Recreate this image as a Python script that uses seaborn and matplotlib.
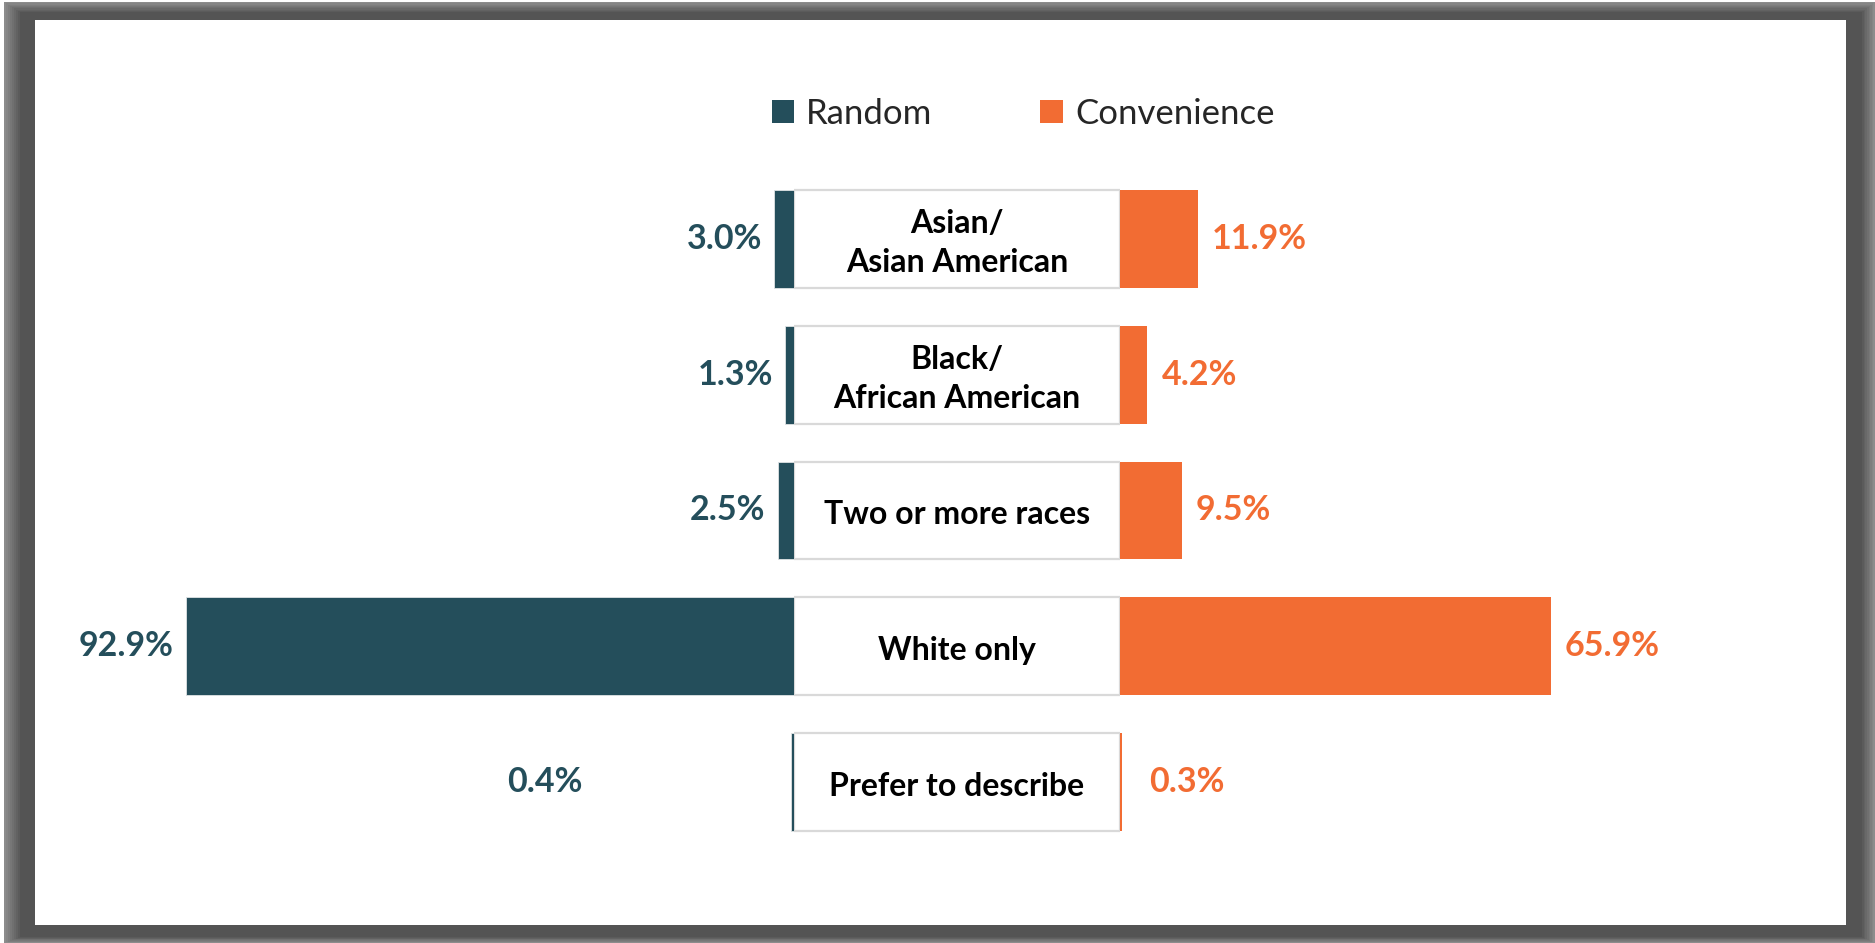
import matplotlib
matplotlib.use("Agg")
import matplotlib.pyplot as plt
import seaborn as sns
from matplotlib.patches import Rectangle, Patch

# ---- data ----
categories = ["Asian/\nAsian American", "Black/\nAfrican American", "Two or more races",
              "White only", "Prefer to describe"]
random_vals = [3.0, 1.3, 2.5, 92.9, 0.4]
convenience_vals = [11.9, 4.2, 9.5, 65.9, 0.3]
series_names = ["Random", "Convenience"]

TEAL = "#244E5B"
ORANGE = "#F26C33"
FONT = "Lato"

sns.set_theme(style="white")
plt.rcParams["font.family"] = [FONT, "DejaVu Sans"]

W, H = 1875, 943
fig = plt.figure(figsize=(W / 100, H / 100), dpi=100)
fig.patch.set_facecolor("white")

# ---- shadowed frame ----
def frect(x0, y0, x1, y1, color, z):
    fig.patches.append(Rectangle((x0 / W, 1 - y1 / H), (x1 - x0) / W, (y1 - y0) / H,
                                 transform=fig.transFigure, facecolor=color,
                                 edgecolor="none", zorder=z))

steps = 8
outer = (4, 2, 1875, 943)
dark = (20, 12, 1862, 937)
for i in range(steps + 1):
    t = i / steps
    box = [o + (d - o) * t for o, d in zip(outer, dark)]
    g = 0.55 - (0.55 - 0.33) * t
    frect(*box, (g, g, g), -10 + i * 0.01)
frect(35, 20, 1846, 925, "white", -9)

# ---- axes geometry ----
px_per_unit = 6.54
span = 100
box_l, box_r = 794, 1120
top_px, step_px = 239, 135.75
ax_top = top_px - 0.5 * step_px
ax_bot = ax_top + len(categories) * step_px
bottom = 1 - ax_bot / H
height = (ax_bot - ax_top) / H
lw_ = span * px_per_unit

axL = fig.add_axes([(box_l - lw_) / W, bottom, lw_ / W, height])
axM = fig.add_axes([box_l / W, bottom, (box_r - box_l) / W, height])
axR = fig.add_axes([box_r / W, bottom, lw_ / W, height])

bar_w = 0.72
sns.barplot(x=random_vals, y=categories, orient="h", ax=axL, color=TEAL,
            saturation=1, width=bar_w, edgecolor="#dfe3e5", linewidth=0.6)
sns.barplot(x=convenience_vals, y=categories, orient="h", ax=axR, color=ORANGE,
            saturation=1, width=bar_w, edgecolor="none", linewidth=0)
sns.barplot(x=[1] * len(categories), y=categories, orient="h", ax=axM, color="white",
            saturation=1, width=bar_w, edgecolor="#d9d9d9", linewidth=1.6)

axL.set_xlim(span, 0)
axR.set_xlim(0, span)
axM.set_xlim(0, 1)
for ax in (axL, axM, axR):
    ax.set_ylim(len(categories) - 0.5, -0.5)
    ax.axis("off")
    ax.patch.set_alpha(0)

lab_size = 24.5
for i, (cat, rv, cv) in enumerate(zip(categories, random_vals, convenience_vals)):
    extra_l = 30 if i == len(categories) - 1 else 0
    extra_r = 2 if i == len(categories) - 1 else 0
    axL.annotate(f"{rv:.1f}%", xy=(rv + extra_l, i), xytext=(-9, 0),
                 textcoords="offset points", ha="right", va="center",
                 fontsize=lab_size, fontweight="bold", color=TEAL)
    axR.annotate(f"{cv:.1f}%", xy=(cv + extra_r, i), xytext=(10, 0),
                 textcoords="offset points", ha="left", va="center",
                 fontsize=lab_size, fontweight="bold", color=ORANGE)
    axM.text(0.5, i + 0.03, cat, ha="center", va="center", fontsize=23,
             fontweight="bold", color="black", linespacing=1.4)

handles = [Patch(facecolor=TEAL, edgecolor="none"), Patch(facecolor=ORANGE, edgecolor="none")]
fig.legend(handles, series_names, loc="center",
           bbox_to_anchor=(1023 / W, 1 - 114 / H),
           ncol=2, frameon=False, fontsize=25, handlelength=0.65, handleheight=0.65,
           handletextpad=0.35, columnspacing=3.1)

fig.savefig("out.png", dpi=100, facecolor=fig.get_facecolor())
